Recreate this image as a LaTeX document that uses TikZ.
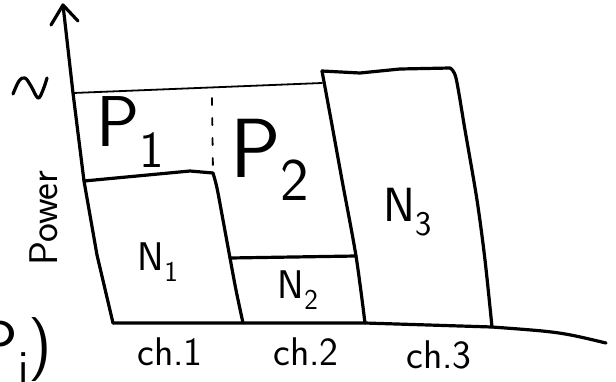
\documentclass[tikz,border=0pt]{standalone}
\usepackage{fontspec}
\usepackage{graphicx}
\newcommand\lowidx[1]{\raisebox{-0.28em}{\scalebox{0.72}{#1}}}
\begin{document}
\begin{tikzpicture}[x=1pt,y=-1pt,line cap=round,line join=round,
  ink/.style={line width=3.2pt},
  fine/.style={line width=1.8pt},
  lbl/.style={inner sep=0pt,font=\sffamily\fontsize{40}{40}\selectfont},
  big/.style={inner sep=0pt,font=\sffamily\fontsize{72}{72}\selectfont},
]
\useasboundingbox (0,0) rectangle (616,381);

% corner points of the bars
\coordinate (o) at (113,323);
\coordinate (tip) at (63,5);
\coordinate (t1) at (84,181);
\coordinate (r1) at (213,173);
\coordinate (b1) at (243,323);
\coordinate (n2l) at (230,258);
\coordinate (n2r) at (356,256);
\coordinate (t3l) at (322,71);
\coordinate (t3r) at (450,68);
\coordinate (b2) at (365,323);
\coordinate (b3) at (492,327);
\coordinate (xend) at (606,343);
\coordinate (pl) at (73,93);
\coordinate (pr) at (322,83);

% power axis with arrow head
\draw[ink] (o) -- (97,255) -- (t1) -- (pl) -- (tip);
\draw[ink] (51,25) -- (tip) -- (78,21);
\draw[ink] plot[smooth,tension=0.6] coordinates {(13,94) (19,81) (25,78) (31,86) (38,98) (43,90) (47,78)};

% channel axis
\draw[ink] (o) -- (b2) -- (b3) .. controls (560,332) .. (xend);

% total power level and split between P1 and P2
\draw[fine] (pl) -- (pr);
\draw[fine,dash pattern=on 7pt off 13pt] (212,98) -- (r1);

% channel 1 noise
\draw[ink] (t1) -- (190,171) -- (r1);
\draw[ink] plot[smooth,tension=0.5] coordinates {(r1) (217,188) (223,220) (n2l) (236,290) (b1)};

% channel 2 noise
\draw[ink] (n2l) -- (n2r);

% channel 3 noise
\draw[ink] plot[smooth,tension=0.5] coordinates {(t3l) (332,125) (342,180) (n2r) (b2)};
\draw[ink] (t3l) -- (360,73) -- (400,69) -- (t3r);
\draw[ink] plot[smooth,tension=0.5] coordinates {(t3r) (456,78) (465,130) (477,200) (485,260) (b3)};

% labels
\node[big] (p1) at (130,132) {P\lowidx{1}};
\node[big,font=\sffamily\fontsize{84}{84}\selectfont] (p2) at (270,160) {P\lowidx{2}};
\node[lbl] (n1) at (158,262) {N\lowidx{1}};
\node[lbl] (n2) at (298,290) {N\lowidx{2}};
\node[lbl,font=\sffamily\fontsize{48}{48}\selectfont] (n3) at (408,212) {N\lowidx{3}};
\node[lbl] (c1) at (170,352) {ch.1};
\node[lbl] (c2) at (306,352) {ch.2};
\node[lbl] (c3) at (439,355) {ch.3};
\node[lbl,font=\sffamily\fontsize{40}{40}\selectfont,rotate=90] (pw) at (44,218) {Power};
\node[big,font=\sffamily\fontsize{64}{64}\selectfont,anchor=east] (pi) at (52,350) {(P\lowidx{i})};
\end{tikzpicture}
\end{document}
